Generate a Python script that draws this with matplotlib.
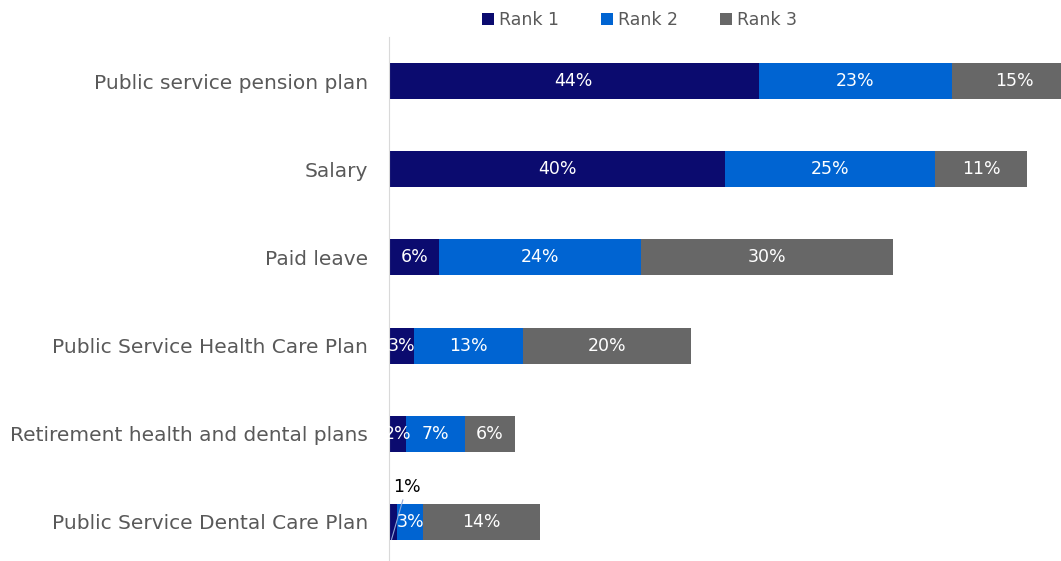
import matplotlib.pyplot as plt
import numpy as np

categories = ["Public service pension plan", "Salary", "Paid leave",
              "Public Service Health Care Plan",
              "Retirement health and dental plans",
              "Public Service Dental Care Plan"]
rank1 = [44, 40, 6, 3, 2, 1]
rank2 = [23, 25, 24, 13, 7, 3]
rank3 = [15, 11, 30, 20, 6, 14]
series_names = ["Rank 1", "Rank 2", "Rank 3"]
colors = ["#0b0b6f", "#0064d2", "#676767"]

plt.rcParams['font.family'] = ['DejaVu Sans']

fig = plt.figure(figsize=(10.61, 5.61), dpi=100)
ax = fig.add_axes([389 / 1061, -5 / 561, 1 - 389 / 1061, 529 / 561])

y = np.arange(len(categories))
left = np.zeros(len(categories))
for vals, name, col in zip([rank1, rank2, rank3], series_names, colors):
    bars = ax.barh(y, vals, left=left, height=0.41, color=col, label=name)
    for i, (b, v) in enumerate(zip(bars, vals)):
        cx = left[i] + v / 2
        if v < 2:
            # too thin, put the label above with a leader line
            ax.annotate(f"{v}%", xy=(cx - 0.2, y[i] + 0.2), xytext=(cx + 1.6, y[i] - 0.4),
                        ha="center", va="center", fontsize=12.5, color="black",
                        arrowprops=dict(arrowstyle="-", color="#8fa8d8", lw=0.8,
                                        shrinkA=1, shrinkB=0))
        else:
            ax.text(cx, y[i], f"{v}%", ha="center", va="center",
                    fontsize=12.5, color="white")
    left = left + np.array(vals)

ax.set_ylim(len(categories) - 0.5, -0.5)
ax.set_xlim(0, 80)
ax.set_yticks(y)
ax.set_yticklabels(categories, fontsize=14.5, color="#595959")
ax.tick_params(axis="y", length=0, pad=15)
for lbl in ax.get_yticklabels():
    lbl.set_y(lbl.get_position()[1])
    lbl.set_va("center_baseline")
ax.set_xticks([])
for s in ["top", "right", "bottom"]:
    ax.spines[s].set_visible(False)
ax.spines["left"].set_color("#d9d9d9")

fig.legend(loc="upper center", bbox_to_anchor=(0.603, 1.008), ncol=3, frameon=False,
           fontsize=12.5, handlelength=0.7, handleheight=0.7, handletextpad=0.3,
           columnspacing=2.4, labelcolor="#595959")

fig.savefig("out.png", dpi=100)
